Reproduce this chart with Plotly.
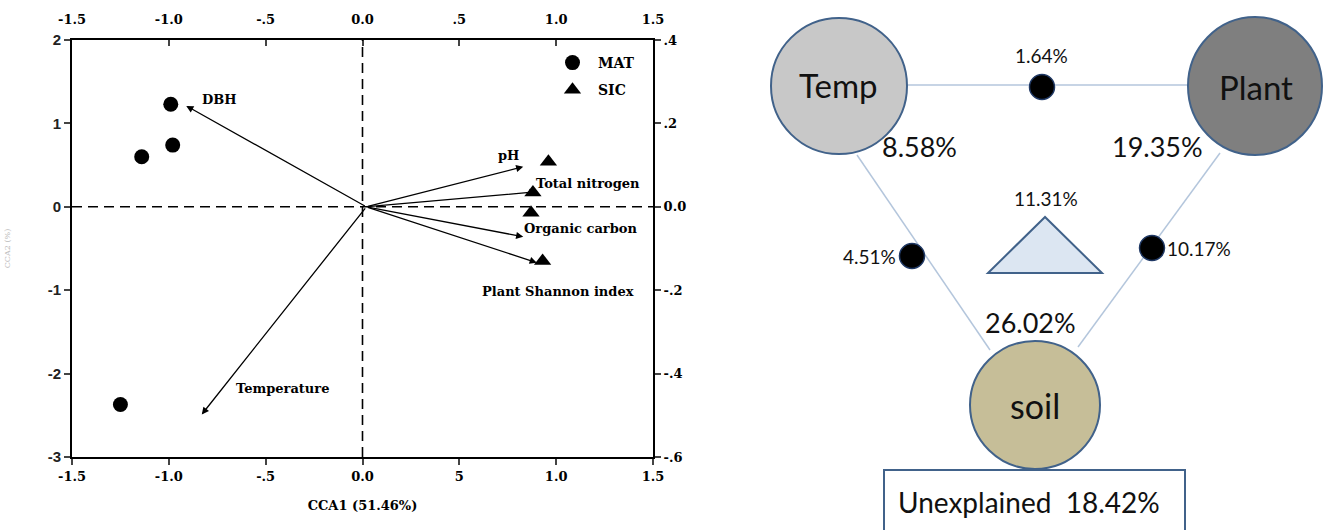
import plotly.graph_objects as go

# ---------------- data ----------------
mat_x = [-0.99, -0.98, -1.14, -1.25]
mat_y = [1.23, 0.74, 0.60, -2.37]
sic_x = [0.96, 0.88, 0.87, 0.93]
sic_y = [0.54, 0.17, -0.07, -0.65]

env_names = ["DBH", "pH", "Total nitrogen", "Organic carbon", "Plant Shannon index", "Temperature"]
env_x = [-0.91, 0.83, 0.90, 0.83, 0.90, -0.83]
env_y = [1.21, 0.48, 0.18, -0.36, -0.67, -2.49]

bottom_ticks = [-1.5, -1.0, -0.5, 0.0, 0.5, 1.0, 1.5]
bottom_labels = ["-1.5", "-1.0", "-.5", "0.0", "5", "1.0", "1.5"]
top_labels = ["-1.5", "-1.0", "-.5", "0.0", ".5", "1.0", "1.5"]
left_ticks = [2, 1, 0, -1, -2, -3]
right_ticks = [0.4, 0.2, 0.0, -0.2, -0.4, -0.6]
right_labels = [".4", ".2", "0.0", "-.2", "-.4", "-.6"]

# variance partitioning
part_names = ["Temp", "Plant", "soil"]
part_unique = ["8.58%", "19.35%", "26.02%"]
shared_tp = "1.64%"
shared_ts = "4.51%"
shared_ps = "10.17%"
shared_all = "11.31%"
unexplained = "18.42%"

W, H = 1324, 530
SERIF = "DejaVu Serif"

fig = go.Figure()

fig.add_trace(go.Scatter(x=mat_x, y=mat_y, mode="markers", name="MAT", legendgroup="a",
                         marker=dict(symbol="circle", size=15, color="black"),
                         xaxis="x", yaxis="y"))
fig.add_trace(go.Scatter(x=sic_x, y=sic_y, mode="markers", name="SIC", legendgroup="b",
                         marker=dict(symbol="triangle-up", size=15, color="black"),
                         xaxis="x", yaxis="y"))
fig.add_trace(go.Scatter(x=[None], y=[None], xaxis="x2", yaxis="y2",
                         showlegend=False, hoverinfo="skip"))

# arrows
label_off = {
    "DBH": dict(xanchor="left", xshift=14, yshift=6),
    "pH": dict(xanchor="right", xshift=-2, yshift=11),
    "Total nitrogen": dict(xanchor="left", xshift=-3, yshift=8),
    "Organic carbon": dict(xanchor="left", xshift=-1, yshift=8),
    "Plant Shannon index": dict(xanchor="center", xshift=21, yshift=-29),
    "Temperature": dict(xanchor="left", xshift=32, yshift=26),
}
for n, ex, ey in zip(env_names, env_x, env_y):
    fig.add_annotation(x=ex, y=ey, ax=0.02, ay=0.0, xref="x", yref="y",
                       axref="x", ayref="y", text="", showarrow=True,
                       arrowhead=2, arrowsize=1.1, arrowwidth=1.3, arrowcolor="black")
    fig.add_annotation(x=ex, y=ey, xref="x", yref="y", text=n, showarrow=False,
                       font=dict(family=SERIF, size=13, color="black", weight="bold"),
                       **label_off[n])

# dashed zero lines
fig.add_shape(type="line", x0=0, x1=0, y0=0, y1=1, xref="x", yref="y domain",
              line=dict(color="black", width=1.6, dash="10px,6px"))
fig.add_shape(type="line", x0=0, x1=1, y0=0, y1=0, xref="x domain", yref="y",
              line=dict(color="black", width=1.6, dash="10px,6px"))

x0d, x1d = 72 / W, 653 / W
y0d, y1d = 1 - 457 / H, 1 - 40 / H
tickfont_serif = dict(family=SERIF, size=13, color="black", weight="bold")

# ---------------- right diagram ----------------
edge = "#41628a"
linec = "#b4c6dc"
for (lx0, ly0, lx1, ly1) in [(907, 85, 1188, 85), (857, 155, 990, 350), (1220, 153, 1078, 347)]:
    fig.add_shape(type="line", x0=lx0, y0=ly0, x1=lx1, y1=ly1, xref="x3", yref="y3",
                  layer="below", line=dict(color=linec, width=1.5))
circles = [(839, 86, 68, 68, "#c8c8c8"), (1255, 86, 67, 69, "#7f7f7f"), (1035, 405, 65, 64, "#c6be98")]
for (cx, cy, rx, ry, fc) in circles:
    fig.add_shape(type="circle", x0=cx - rx, x1=cx + rx, y0=cy - ry, y1=cy + ry,
                  xref="x3", yref="y3", fillcolor=fc, line=dict(color=edge, width=2))
fig.add_shape(type="path", path="M 1045 217 L 988 273 L 1102 273 Z", xref="x3", yref="y3",
              fillcolor="#dce6f2", line=dict(color=edge, width=2))
fig.add_shape(type="rect", x0=884, x1=1185, y0=470, y1=535, xref="x3", yref="y3",
              fillcolor="white", line=dict(color=edge, width=2))
fig.add_trace(go.Scatter(x=[1042, 912, 1152], y=[87, 256, 248], mode="markers",
                         marker=dict(size=25, color="black", line=dict(color="#1f3864", width=1.5)),
                         xaxis="x3", yaxis="y3", showlegend=False, hoverinfo="skip"))

DF = "Lato"
def t(x, y, s, size, anchor="center", color="#111"):
    fig.add_annotation(x=x, y=y, xref="x3", yref="y3", text=s, showarrow=False,
                       xanchor=anchor, font=dict(family=DF, size=size, color=color))

t(838, 85, part_names[0], 33)
t(1256, 87, part_names[1], 33)
t(1035, 405, part_names[2], 34)
t(919, 146, part_unique[0], 27)
t(1157, 146, part_unique[1], 27)
t(1030, 322, part_unique[2], 27)
t(1041, 55, shared_tp, 19)
t(1046, 198, shared_all, 19)
t(898, 256, shared_ts, 19, anchor="right")
t(1165, 248, shared_ps, 19, anchor="left")
t(1029, 502, "Unexplained  " + unexplained, 28)

fig.update_layout(
    width=W, height=H, margin=dict(l=0, r=0, t=0, b=0, autoexpand=False),
    paper_bgcolor="white", plot_bgcolor="white",
    xaxis=dict(domain=[x0d, x1d], range=[-1.5, 1.5], anchor="y", automargin=False,
               tickvals=bottom_ticks, ticktext=bottom_labels, tickfont=tickfont_serif,
               showline=True, linecolor="black", linewidth=2, ticks="outside",
               ticklen=6, tickwidth=1.5, showgrid=False, zeroline=False,
               title=dict(text="CCA1 (51.46%)", font=dict(family=SERIF, size=13, color="black", weight="bold"),
                          standoff=18)),
    xaxis2=dict(overlaying="x", side="top", range=[-1.5, 1.5], anchor="y", automargin=False,
                tickvals=bottom_ticks, ticktext=top_labels, tickfont=tickfont_serif,
                showline=True, linecolor="black", linewidth=2, ticks="inside",
                ticklen=6, tickwidth=1.5, showgrid=False, zeroline=False,
                ticklabelstandoff=9),
    yaxis=dict(domain=[y0d, y1d], range=[-3, 2], anchor="x", automargin=False,
               tickvals=left_ticks, ticktext=[str(v) for v in left_ticks],
               tickfont=dict(family="Liberation Sans", size=15, color="#222", weight="bold"),
               showline=True, linecolor="black", linewidth=2, ticks="outside",
               ticklen=6, tickwidth=1.5, showgrid=False, zeroline=False,
               title=dict(text="CCA2 (%)", font=dict(family=SERIF, size=8, color="#bbbbbb"), standoff=36)),
    yaxis2=dict(overlaying="y", side="right", range=[-0.6, 0.4], anchor="x", automargin=False,
                tickvals=right_ticks, ticktext=right_labels, tickfont=tickfont_serif,
                showline=True, linecolor="black", linewidth=2, ticks="outside",
                ticklen=6, tickwidth=1.5, showgrid=False, zeroline=False),
    xaxis3=dict(domain=[745 / W, 1.0], range=[745, 1324], visible=False, anchor="y3"),
    yaxis3=dict(domain=[0, 1], range=[530, 0], visible=False, anchor="x3"),
    legend=dict(x=547 / W, y=1 - 47 / H, xanchor="left", yanchor="top", itemwidth=41,
                font=dict(family=SERIF, size=14, color="black", weight="bold"),
                bgcolor="rgba(0,0,0,0)", tracegroupgap=6),
    showlegend=True,
)

fig.write_html("out.html")
